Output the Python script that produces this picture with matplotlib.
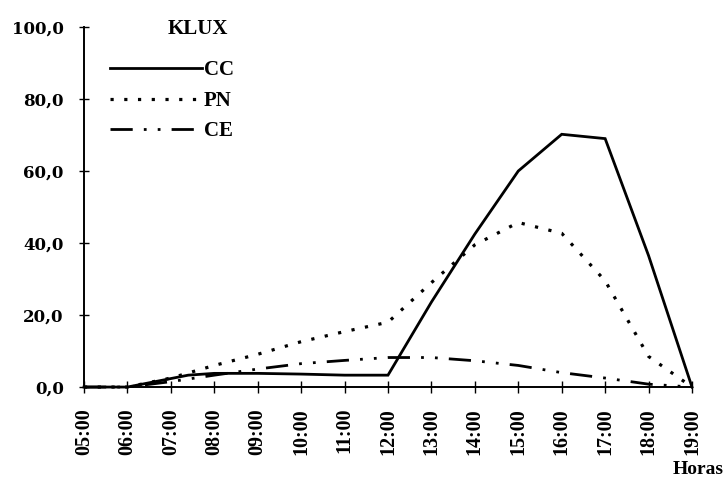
import matplotlib
matplotlib.use("Agg")
import matplotlib.pyplot as plt

# ---- data ----
hours = [5, 6, 7, 8, 9, 10, 11, 12, 13, 14, 15, 16, 17, 18, 19]
hour_labels = ["05:00", "06:00", "07:00", "08:00", "09:00", "10:00", "11:00",
               "12:00", "13:00", "14:00", "15:00", "16:00", "17:00", "18:00", "19:00"]
cc_hours = [5, 6, 7.4, 8, 9, 10, 11, 12, 13, 14, 15, 16, 17, 18, 19]
cc = [0.0, 0.0, 3.3, 3.8, 3.8, 3.6, 3.3, 3.3, 23.6, 42.5, 60.0, 70.2, 69.0, 36.5, 0.0]
pn = [0.0, 0.0, 2.5, 6.0, 9.1, 12.6, 15.4, 18.0, 29.0, 39.5, 45.7, 42.7, 29.5, 8.5, 0.0]
ce = [0.0, 0.0, 1.5, 3.3, 5.0, 6.5, 7.4, 8.2, 8.2, 7.3, 6.0, 4.0, 2.5, 0.8, 0.0]
series_names = ["CC", "PN", "CE"]
y_ticks = [0, 20, 40, 60, 80, 100]
y_labels = ["0,0", "20,0", "40,0", "60,0", "80,0", "100,0"]

SERIF = "Liberation Serif"

fig = plt.figure(figsize=(7.24, 4.82), dpi=100)
fig.patch.set_facecolor("white")
ax = fig.add_axes([0.116, 0.197, 0.8398, 0.747])

dot_style = (0, (1, 3.3))
dashdotdot = (0, (8, 4, 1, 4, 1, 4))

l1, = ax.plot(cc_hours, cc, color="black", lw=2.0, solid_joinstyle="miter", clip_on=False)
l2, = ax.plot(hours, pn, color="black", lw=2.3, linestyle=dot_style, clip_on=False)
l3, = ax.plot(hours, ce, color="black", lw=2.0, linestyle=dashdotdot, clip_on=False)

ax.set_xlim(5, 19)
ax.set_ylim(0, 100)

for s in ["top", "right"]:
    ax.spines[s].set_visible(False)
for s in ["left", "bottom"]:
    ax.spines[s].set_linewidth(1.4)

ax.set_xticks(hours)
ax.set_xticklabels(hour_labels, rotation=90, fontfamily=SERIF, fontweight="bold", fontsize=14.5)
ax.set_yticks(y_ticks)
ax.set_yticklabels(y_labels, fontfamily="DejaVu Serif", fontweight="bold", fontsize=12)
ax.tick_params(axis="x", direction="inout", length=8, width=1.0, pad=11)
ax.tick_params(axis="y", direction="inout", length=7, width=1.0, pad=11)

leg = ax.legend([l1, l2, l3], series_names, loc="upper left",
                bbox_to_anchor=(0.043, 0.907), frameon=False,
                prop={"family": SERIF, "weight": "bold", "size": 15},
                handlelength=4.4, handletextpad=0.1, labelspacing=0.5,
                borderaxespad=0.0, borderpad=0.0)

fig.text(168 / 724, 1 - 29 / 482, "KLUX", fontfamily=SERIF, fontweight="bold",
         fontsize=15, ha="left", va="center")
fig.text(0.999, 1 - 470 / 482, "Horas", fontfamily=SERIF, fontweight="bold",
         fontsize=14, ha="right", va="center")

fig.savefig("out.png", dpi=100, facecolor="white")
